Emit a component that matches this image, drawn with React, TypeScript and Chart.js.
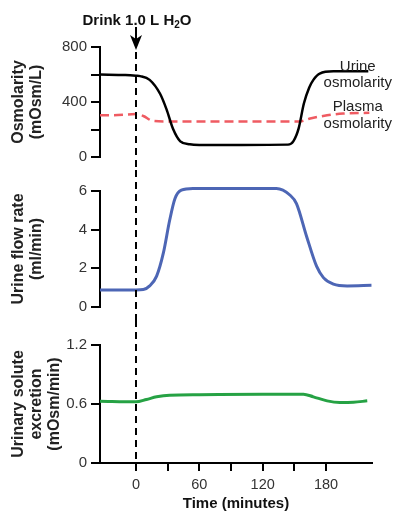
import React, { useEffect, useRef } from 'react';
import { Chart, registerables } from 'chart.js';
Chart.register(...registerables);

const FONT = '"Liberation Sans", Arial, Helvetica, sans-serif';

// ---- Data (time in minutes) ----
const urineOsmTime = [-34, -10, 0, 4, 13, 23, 29, 35, 42, 51, 60, 100, 144, 149, 154, 159, 164, 168, 174, 187, 220];
const urineOsmVal = [600, 596, 591, 588, 561, 458, 346, 207, 114, 92, 88, 88, 90, 114, 206, 389, 504, 561, 607, 623, 623];

const plasmaOsmTime = [-34, -22, 0, 7, 16, 29, 100, 155, 165, 181, 196, 221];
const plasmaOsmVal = [303, 303, 312, 298, 263, 259, 259, 259, 280, 303, 316, 321];

const flowTime = [-34, 0, 7, 13, 19.6, 26, 32, 37, 43, 54, 100, 133, 146, 152, 161.6, 171, 177.5, 187, 200, 223];
const flowVal = [0.88, 0.88, 0.9, 1.09, 1.6, 2.8, 4.5, 5.61, 6.04, 6.13, 6.13, 6.13, 5.78, 5.35, 3.65, 2.11, 1.52, 1.18, 1.09, 1.12];

const soluteTime = [-34, 0, 10, 19.6, 32, 60, 120, 158.6, 168, 181, 193, 206, 219];
const soluteVal = [0.629, 0.622, 0.646, 0.673, 0.69, 0.695, 0.7, 0.7, 0.673, 0.632, 0.616, 0.618, 0.632];

const osmTicks = [0, 200, 400, 600, 800];
const osmTickLabels = ['0', '', '400', '', '800'];
const flowTicks = [0, 2, 4, 6];
const flowTickLabels = ['0', '2', '4', '6'];
const soluteTicks = [0, 0.6, 1.2];
const soluteTickLabels = ['0', '0.6', '1.2'];
const timeTicks = [0, 30, 60, 90, 120, 150, 180];
const timeTickLabels = ['0', '', '60', '', '120', '', '180'];

const X_MIN = -34;
const X_MAX = 223.5;

const pts = (xs: number[], ys: number[]) => xs.map((x, i) => ({ x, y: ys[i] }));

function yAxis(min: number, max: number, tickVals: number[], tickLabels: string[], title: string[]) {
  return {
    type: 'linear',
    position: 'left',
    min,
    max,
    afterFit: (s: any) => { s.width = 100; },
    afterBuildTicks: (s: any) => { s.ticks = tickVals.map((v) => ({ value: v })); },
    ticks: {
      callback: (_v: any, i: number) => tickLabels[i],
      color: '#333',
      font: { family: FONT, size: 15 },
      padding: 4,
      autoSkip: false,
      maxRotation: 0,
    },
    grid: { drawOnChartArea: false, drawTicks: true, tickLength: 9, color: '#000', lineWidth: 2 },
    border: { display: true, color: '#000', width: 2 },
    title: {
      display: true,
      text: title,
      color: '#222',
      font: { family: FONT, size: 16, weight: 'bold', lineHeight: 1.125 },
      padding: { top: 10, bottom: 0 },
    },
  };
}

const hiddenX = { type: 'linear', min: X_MIN, max: X_MAX, display: false };

function dropLine(mode: 'top' | 'mid' | 'bottom') {
  return {
    id: 'dropLine_' + mode,
    afterDraw(chart: any) {
      const ctx = chart.ctx;
      const x = Math.round(chart.scales.x.getPixelForValue(0));
      ctx.save();
      ctx.strokeStyle = '#000';
      ctx.lineWidth = 2;
      ctx.setLineDash([7, 5]);
      ctx.beginPath();
      const y0 = mode === 'top' ? 52 : 0;
      const y1 = mode === 'bottom' ? chart.chartArea.bottom : chart.height;
      ctx.moveTo(x, y0);
      ctx.lineTo(x, y1);
      ctx.stroke();
      ctx.setLineDash([]);
      if (mode === 'top') {
        // arrow
        ctx.beginPath();
        ctx.moveTo(x, 27);
        ctx.lineTo(x, 40);
        ctx.stroke();
        ctx.fillStyle = '#000';
        ctx.beginPath();
        ctx.moveTo(x - 6, 35);
        ctx.lineTo(x, 39);
        ctx.lineTo(x + 6, 35);
        ctx.lineTo(x, 50);
        ctx.closePath();
        ctx.fill();
        // label: Drink 1.0 L H2O
        const big = `bold 15px ${FONT}`;
        const small = `bold 10px ${FONT}`;
        const p1 = 'Drink 1.0 L H';
        const p2 = '2';
        const p3 = 'O';
        ctx.font = big;
        const w1 = ctx.measureText(p1).width;
        const w3 = ctx.measureText(p3).width;
        ctx.font = small;
        const w2 = ctx.measureText(p2).width;
        const total = w1 + w2 + w3;
        let tx = x + 1 - total / 2;
        const base = 25;
        ctx.fillStyle = '#111';
        ctx.textAlign = 'left';
        ctx.textBaseline = 'alphabetic';
        ctx.font = big;
        ctx.fillText(p1, tx, base);
        tx += w1;
        ctx.font = small;
        ctx.fillText(p2, tx, base + 3);
        tx += w2;
        ctx.font = big;
        ctx.fillText(p3, tx, base);
        // series labels
        const lx = chart.scales.x.getPixelForValue(210);
        const ys = chart.scales.y;
        ctx.font = `15px ${FONT}`;
        ctx.fillStyle = '#222';
        ctx.textAlign = 'center';
        ctx.fillText('Urine', lx, ys.getPixelForValue(628));
        ctx.fillText('osmolarity', lx, ys.getPixelForValue(511));
        ctx.fillText('Plasma', lx, ys.getPixelForValue(336));
        ctx.fillText('osmolarity', lx, ys.getPixelForValue(212));
      }
      ctx.restore();
    },
  };
}

export default function App() {
  const c1 = useRef<HTMLCanvasElement>(null);
  const c2 = useRef<HTMLCanvasElement>(null);
  const c3 = useRef<HTMLCanvasElement>(null);

  useEffect(() => {
    const common = {
      animation: false,
      responsive: false,
      maintainAspectRatio: false,
      plugins: { legend: { display: false }, tooltip: { enabled: false } },
      elements: { point: { radius: 0 } },
    };

    const ch1 = new Chart(c1.current!, {
      type: 'line',
      data: {
        datasets: [
          {
            data: pts(urineOsmTime, urineOsmVal),
            borderColor: '#000',
            borderWidth: 2.5,
            cubicInterpolationMode: 'monotone',
            fill: false,
            clip: false,
          },
          {
            data: pts(plasmaOsmTime, plasmaOsmVal),
            borderColor: '#ef5b62',
            borderWidth: 2.5,
            borderDash: [9, 5],
            cubicInterpolationMode: 'monotone',
            fill: false,
            clip: false,
          },
        ],
      },
      options: {
        ...common,
        layout: { padding: { top: 47, bottom: 7, right: 23, left: 0 } },
        scales: {
          x: hiddenX,
          y: yAxis(0, 800, osmTicks, osmTickLabels, ['Osmolarity', '(mOsm/L)']),
        },
      } as any,
      plugins: [dropLine('top')],
    } as any);

    const ch2 = new Chart(c2.current!, {
      type: 'line',
      data: {
        datasets: [
          {
            data: pts(flowTime, flowVal),
            borderColor: '#4d66b5',
            borderWidth: 3,
            cubicInterpolationMode: 'monotone',
            fill: false,
            clip: false,
          },
        ],
      },
      options: {
        ...common,
        layout: { padding: { top: 21, bottom: 12, right: 23, left: 0 } },
        scales: {
          x: hiddenX,
          y: yAxis(0, 6, flowTicks, flowTickLabels, ['Urine flow rate', '(ml/min)']),
        },
      } as any,
      plugins: [dropLine('mid')],
    } as any);

    const ch3 = new Chart(c3.current!, {
      type: 'line',
      data: {
        datasets: [
          {
            data: pts(soluteTime, soluteVal),
            borderColor: '#26a244',
            borderWidth: 3,
            cubicInterpolationMode: 'monotone',
            fill: false,
            clip: false,
          },
        ],
      },
      options: {
        ...common,
        layout: { padding: { top: 25, bottom: 0, right: 23, left: 0 } },
        scales: {
          x: {
            type: 'linear',
            min: X_MIN,
            max: X_MAX,
            afterFit: (s: any) => { s.height = 50; },
            afterBuildTicks: (s: any) => { s.ticks = timeTicks.map((v) => ({ value: v })); },
            ticks: {
              callback: (_v: any, i: number) => timeTickLabels[i],
              color: '#333',
              font: { family: FONT, size: 14.5 },
              padding: 5,
              autoSkip: false,
              maxRotation: 0,
            },
            grid: { drawOnChartArea: false, drawTicks: true, tickLength: 8, color: '#000', lineWidth: 2 },
            border: { display: true, color: '#000', width: 2 },
            title: {
              display: true,
              text: 'Time (minutes)',
              color: '#111',
              font: { family: FONT, size: 15, weight: 'bold', lineHeight: 1.2 },
              padding: { top: 0, bottom: 0 },
            },
          },
          y: yAxis(0, 1.2, soluteTicks, soluteTickLabels, ['Urinary solute', 'excretion', '(mOsm/min)']),
        },
      } as any,
      plugins: [dropLine('bottom')],
    } as any);

    return () => {
      ch1.destroy();
      ch2.destroy();
      ch3.destroy();
    };
  }, []);

  return (
    <div style={{ position: 'absolute', left: 0, top: 0, width: 395, height: 513, background: '#fff' }}>
      <canvas ref={c1} width={395} height={170} style={{ display: 'block' }} />
      <canvas ref={c2} width={395} height={150} style={{ display: 'block' }} />
      <canvas ref={c3} width={395} height={193} style={{ display: 'block' }} />
    </div>
  );
}
